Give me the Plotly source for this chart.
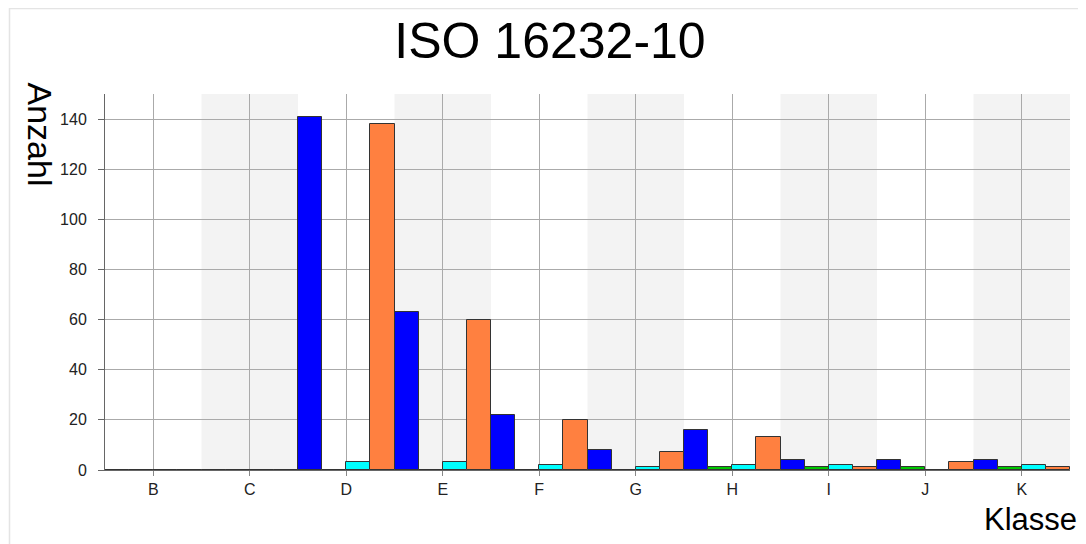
import plotly.graph_objects as go

categories = ["B", "C", "D", "E", "F", "G", "H", "I", "J", "K"]
series_blue = [0, 0, 141, 63, 22, 8, 16, 4, 4, 4]
series_green = [0, 0, 0, 0, 0, 0, 1, 1, 1, 1]
series_cyan = [0, 0, 3, 3, 2, 1, 2, 2, 0, 2]
series_orange = [0, 0, 138, 60, 20, 7, 13, 1, 3, 1]
y_ticks = [0, 20, 40, 60, 80, 100, 120, 140]

# page is offset by the 8px body margin
OFF = 8
W, H = 1086 - OFF, 544 - OFF
L, R, T, B = 105 - OFF, 1086 - 1070, 94 - OFF, 544 - 470
PW = W - L - R
PH = H - T - B

def px_x(page_x):
    return (page_x - OFF - L) / PW

def px_y(page_y):
    return (H - B - (page_y - OFF)) / PH

FONT = "Liberation Sans, Arial, sans-serif"

fig = go.Figure()
for name, vals, col in [
    ("blue", series_blue, "#0000FF"),
    ("green", series_green, "#00C800"),
    ("cyan", series_cyan, "#00FFFF"),
    ("orange", series_orange, "#FF8040"),
]:
    fig.add_trace(go.Bar(
        x=categories, y=vals, name=name,
        marker=dict(color=col, line=dict(color="#333333", width=1)),
        hoverinfo="x+y",
    ))

shapes = []
for i in range(1, len(categories), 2):
    shapes.append(dict(type="rect", xref="x", yref="paper",
                       x0=i - 0.5, x1=i + 0.5, y0=0, y1=1,
                       fillcolor="#F3F3F3", line=dict(width=0), layer="below"))
# outer light frame
shapes.append(dict(type="rect", xref="paper", yref="paper",
                   x0=px_x(9.5), x1=1.3, y0=-0.6, y1=px_y(8.5),
                   line=dict(color="#E4E4E4", width=1.5), fillcolor="rgba(0,0,0,0)"))

fig.update_layout(
    width=W, height=H,
    margin=dict(l=L, r=R, t=T, b=B, pad=0),
    paper_bgcolor="white", plot_bgcolor="white",
    barmode="group", bargap=0, bargroupgap=0,
    showlegend=False,
    shapes=shapes,
    title=dict(text="ISO 16232-10", x=(550 - OFF) / W, xref="container", xanchor="center",
               y=1 - (40 - OFF) / H, yref="container", yanchor="middle",
               font=dict(family=FONT, size=50, color="#000000")),
    xaxis=dict(type="category", categoryorder="array", categoryarray=categories,
               range=[-0.5, len(categories) - 0.5],
               showgrid=True, gridcolor="#AAAAAA", gridwidth=1,
               showline=True, linecolor="#666666", linewidth=1,
               ticks="outside", ticklen=5, tickcolor="#888888",
               tickfont=dict(family=FONT, size=16, color="#222222"),
               zeroline=False),
    yaxis=dict(range=[0, 150], tickvals=y_ticks,
               showgrid=True, gridcolor="#AAAAAA", gridwidth=1,
               showline=True, linecolor="#666666", linewidth=1,
               ticks="outside", ticklen=6, tickcolor="#666666",
               ticklabelstandoff=8,
               tickfont=dict(family=FONT, size=16, color="#222222"),
               zeroline=False),
    annotations=[
        dict(text="Anzahl", textangle=90, xref="paper", yref="paper",
             x=px_x(39.5), y=px_y(134), xanchor="center", yanchor="middle",
             showarrow=False, font=dict(family=FONT, size=34, color="#000000")),
        dict(text="Klasse", xref="paper", yref="paper",
             x=px_x(1030), y=px_y(520), xanchor="center", yanchor="middle",
             showarrow=False, font=dict(family=FONT, size=31, color="#000000")),
    ],
)

fig.write_html("out.html")
